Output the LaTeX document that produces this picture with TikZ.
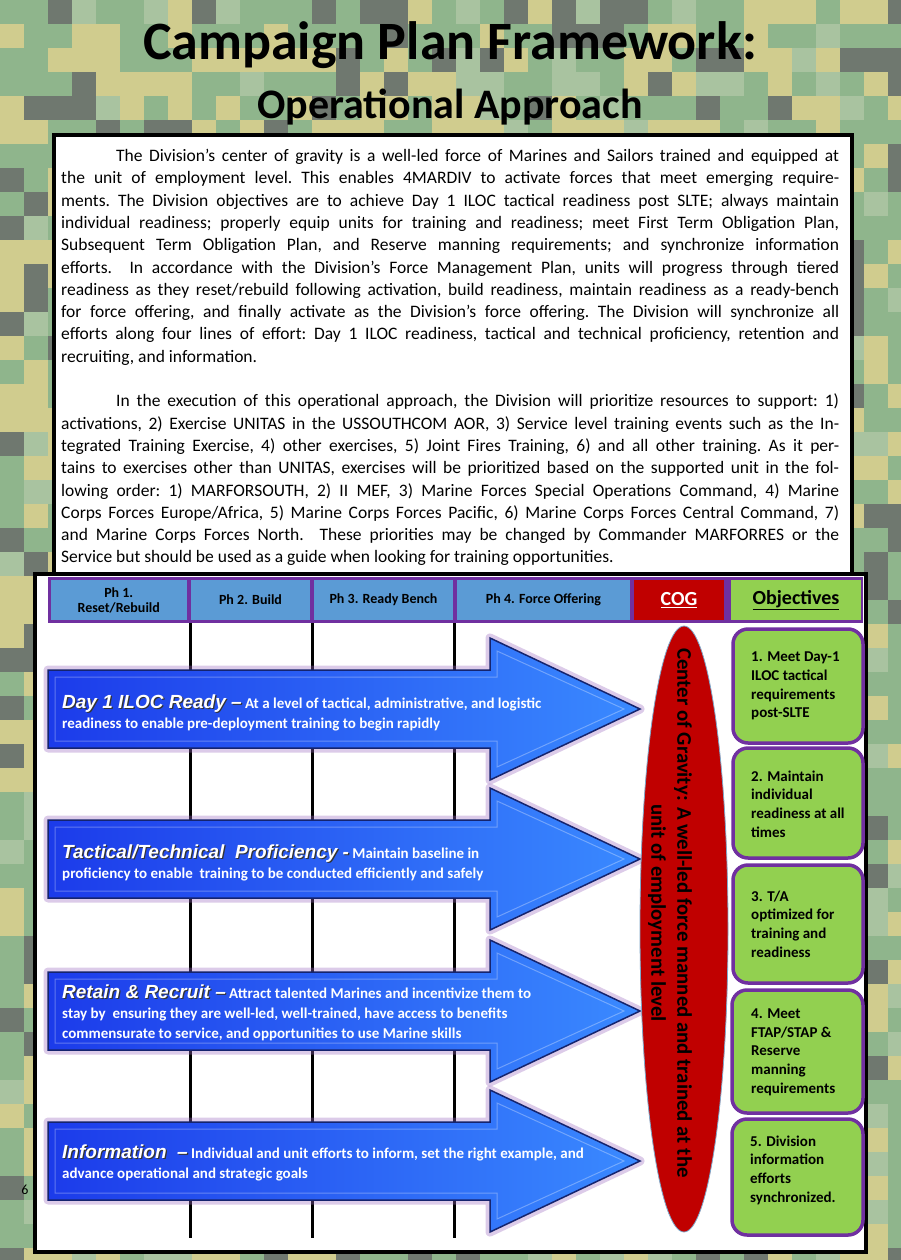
\documentclass[tikz,border=0pt]{standalone}
\usepackage{fontspec}
\setmainfont{Carlito}
\newfontfamily\arialf{Liberation Sans}
\usetikzlibrary{shapes.geometric}
\definecolor{phblue}{HTML}{5B9BD5}
\definecolor{cogred}{HTML}{C00000}
\definecolor{cogedge}{HTML}{7FA7C9}
\definecolor{objgreen}{HTML}{92D050}
\definecolor{purp}{HTML}{7030A0}
\definecolor{glowpurp}{HTML}{9B6BC0}
\definecolor{arrL}{HTML}{1C3BEA}
\definecolor{arrR}{HTML}{3A8AFF}
\definecolor{arrEdge}{HTML}{15246E}
\definecolor{camoA}{HTML}{8FB58C}
\definecolor{camoB}{HTML}{D0CC8E}
\definecolor{camoC}{HTML}{6F786F}
\definecolor{camoD}{HTML}{A9C3A0}
\newcommand\arrhead[1]{{\arialf\bfseries\itshape\fontsize{19}{20}\selectfont\rlap{\kern1.2pt\raisebox{-1.2pt}{\color{black!80}#1}}#1}}
\tikzset{
 hcell/.style={inner sep=0pt, align=center, font=\fontsize{14}{15}\selectfont\bfseries},
 objbox/.style={draw=purp, line width=3.5pt, fill=objgreen, rounded corners=15pt, inner sep=0pt},
 objtext/.style={anchor=west, align=left, inner sep=0pt, font=\fontsize{15}{18.7}\selectfont\bfseries},
 arrtext/.style={anchor=west, align=left, inner sep=0pt, text=white, font=\fontsize{15}{20}\selectfont\bfseries},
 vline/.style={line width=3pt, black},
 arrglow/.style={draw=glowpurp, line width=9pt, line join=round, opacity=0.35},
 arrbody/.style={left color=arrL, right color=arrR, draw=arrEdge, line width=1.5pt, line join=miter},
 arrbevel/.style={draw=white, opacity=0.3, line width=1pt},
}
\begin{document}
\begin{tikzpicture}[x=1pt,y=-1pt]
\useasboundingbox (0,0) rectangle (900,1260);
% camouflage background
\pgfmathsetseed{42}
\foreach \i in {0,...,37}{
 \foreach \j in {0,...,52}{
  \pgfmathrandominteger{\rr}{0}{9}
  \ifnum\rr<4 \def\cc{camoA}\else\ifnum\rr<7 \def\cc{camoB}\else\ifnum\rr<9 \def\cc{camoC}\else\def\cc{camoD}\fi\fi\fi
  \fill[\cc] (\i*24,\j*24) rectangle ++(24,24);
 }
}
% titles
\node[font=\fontsize{54}{60}\selectfont\bfseries] (title) at (450,45) {Campaign Plan Framework:};
\node[font=\fontsize{42}{46}\selectfont\bfseries] (subtitle) at (450,107) {Operational Approach};
% text box
\node[draw=black, line width=4.5pt, fill=white, minimum width=798pt, minimum height=450pt, inner sep=0pt] (tbox) at (453,360) {};
\node[anchor=north west, inner sep=0pt, font=\fontsize{17.5}{22.3}\selectfont] (para) at (61,149) {\vbox{\frenchspacing\hsize=778pt\baselineskip=22.3pt\lineskiplimit=-20pt
\hbox to 778pt{\hskip 55pt The Division’s center of gravity is a well-led force of Marines and Sailors trained and equipped at}
\hbox to 778pt{the unit of employment level. This enables 4MARDIV to activate forces that meet emerging require-}
\hbox to 778pt{ments. The Division objectives are to achieve Day 1 ILOC tactical readiness post SLTE; always maintain}
\hbox to 778pt{individual readiness; properly equip units for training and readiness; meet First Term Obligation Plan,}
\hbox to 778pt{Subsequent Term Obligation Plan, and Reserve manning requirements; and synchronize information}
\hbox to 778pt{efforts.\ \ In accordance with the Division’s Force Management Plan, units will progress through tiered}
\hbox to 778pt{readiness as they reset/rebuild following activation, build readiness, maintain readiness as a ready-bench}
\hbox to 778pt{for force offering, and finally activate as the Division’s force offering. The Division will synchronize all}
\hbox to 778pt{efforts along four lines of effort: Day 1 ILOC readiness, tactical and technical proficiency, retention and}
\hbox{recruiting, and information.}
\vskip 22.3pt
\hbox to 778pt{\hskip 55pt In the execution of this operational approach, the Division will prioritize resources to support: 1)}
\hbox to 778pt{activations, 2) Exercise UNITAS in the USSOUTHCOM AOR, 3) Service level training events such as the In-}
\hbox to 778pt{tegrated Training Exercise, 4) other exercises, 5) Joint Fires Training, 6) and all other training. As it per-}
\hbox to 778pt{tains to exercises other than UNITAS, exercises will be prioritized based on the supported unit in the fol-}
\hbox to 778pt{lowing order: 1) MARFORSOUTH, 2) II MEF, 3) Marine Forces Special Operations Command, 4) Marine}
\hbox to 778pt{Corps Forces Europe/Africa, 5) Marine Corps Forces Pacific, 6) Marine Corps Forces Central Command, 7)}
\hbox to 778pt{and Marine Corps Forces North.\ \ These priorities may be changed by Commander MARFORRES or the}
\hbox{Service but should be used as a guide when looking for training opportunities.}
}};
% page number
\node[font=\fontsize{14}{16}\selectfont] (pg) at (25,1190) {6};
% diagram box
\node[draw=black, line width=4pt, fill=white, minimum width=831pt, minimum height=678pt, inner sep=0pt] (dbox) at (450.5,913) {};
% header
\node[fill=purp, minimum width=815pt, minimum height=46pt, inner sep=0pt] (hdr) at (455.5,600) {};
\node[hcell, fill=phblue, minimum width=136.5pt, minimum height=40pt] (ph1) at (118.75,600) {Ph 1.\\Reset/Rebuild};
\node[hcell, fill=phblue, minimum width=119pt, minimum height=40pt] (ph2) at (250.5,600) {Ph 2. Build};
\node[hcell, fill=phblue, minimum width=139pt, minimum height=40pt] (ph3) at (383.5,600) {Ph 3. Ready Bench};
\node[hcell, fill=phblue, minimum width=173pt, minimum height=40pt] (ph4) at (543.5,600) {Ph 4. Force Offering};
\node[hcell, fill=cogred, text=white, minimum width=90pt, minimum height=40pt, font=\fontsize{20}{22}\selectfont\bfseries] (hcog) at (679,600) {\underline{COG}};
\node[hcell, fill=objgreen, minimum width=130pt, minimum height=40pt, font=\fontsize{20}{22}\selectfont\bfseries] (hobj) at (796,600) {\underline{Objectives}};
% phase lines
\draw[vline] (190,623) -- (190,1238);
\draw[vline] (312,623) -- (312,1238);
\draw[vline] (454,623) -- (454,1238);
% arrows
\foreach \c in {709,859,1011,1161}{
 \draw[arrglow] (48,\c-39) -- (490,\c-39) -- (490,\c-71) -- (640,\c) -- (490,\c+71) -- (490,\c+39) -- (48,\c+39) -- cycle;
 \draw[arrbody] (48,\c-39) -- (490,\c-39) -- (490,\c-71) -- (640,\c) -- (490,\c+71) -- (490,\c+39) -- (48,\c+39) -- cycle;
 \draw[arrbevel] (55,\c-32) -- (497,\c-32) -- (497,\c-58) -- (624,\c) -- (497,\c+58) -- (497,\c+32) -- (55,\c+32) -- cycle;
}
\node[arrtext] (a1) at (62,713) {\arrhead{Day 1 ILOC Ready –} At a level of tactical, administrative, and logistic\\readiness to enable pre-deployment training to begin rapidly};
\node[arrtext] (a2) at (62,863) {\arrhead{Tactical/Technical\ \ Proficiency -} Maintain baseline in\\proficiency to enable\ \ training to be conducted efficiently and safely};
\node[arrtext] (a3) at (62,1013) {\arrhead{Retain \& Recruit –} Attract talented Marines and incentivize them to\\stay by\ \ ensuring they are well-led, well-trained, have access to benefits\\commensurate to service, and opportunities to use Marine skills};
\node[arrtext] (a4) at (62,1163) {\arrhead{Information\ \ –} Individual and unit efforts to inform, set the right example, and\\advance operational and strategic goals};
% center of gravity
\node[ellipse, fill=cogred, draw=cogedge, line width=0.8pt, minimum width=88pt, minimum height=606pt, inner sep=0pt] (cog) at (684,929) {};
\node[rotate=-90, align=center, inner sep=0pt, font=\fontsize{20.8}{26}\selectfont\bfseries] (cogtxt) at (670,913) {Center of Gravity: A well-led force manned and trained at the\\unit of employment level};
% objectives
\node[objbox, minimum width=130pt, minimum height=114pt] (o1) at (798,686) {};
\node[objtext] (o1t) at (751,686) {1. Meet Day-1\\ILOC tactical\\requirements\\post-SLTE};
\node[objbox, minimum width=130pt, minimum height=110pt] (o2) at (798,803) {};
\node[objtext] (o2t) at (751,804) {2. Maintain\\individual\\readiness at all\\times};
\node[objbox, minimum width=130pt, minimum height=118pt] (o3) at (798,924) {};
\node[objtext] (o3t) at (751,924) {3. T/A\\optimized for\\training and\\readiness};
\node[objbox, minimum width=131pt, minimum height=123pt] (o4) at (797.5,1051.5) {};
\node[objtext] (o4t) at (751,1052) {4. Meet\\FTAP/STAP \&\\Reserve\\manning\\requirements};
\node[objbox, minimum width=131pt, minimum height=116pt] (o5) at (797.5,1177) {};
\node[objtext] (o5t) at (750,1170) {5. Division\\information\\efforts\\synchronized.};
\end{tikzpicture}
\end{document}
